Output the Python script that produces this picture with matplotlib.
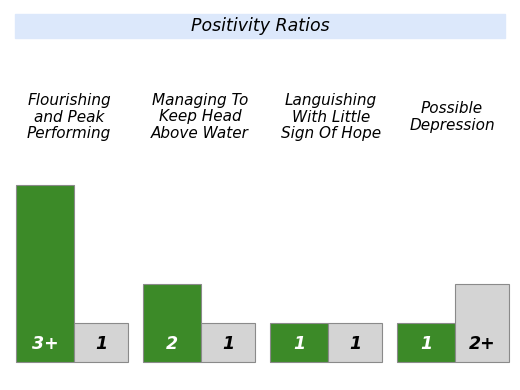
import matplotlib.pyplot as plt
from matplotlib.patches import Rectangle

# Data ===================================
categories = ['Flourishing\nand Peak\nPerforming', 'Managing To\nKeep Head\nAbove Water',
              'Languishing\nWith Little\nSign Of Hope', 'Possible\nDepression']
positive = [4.55, 2, 1, 1]     # green bars
negative = [1, 1, 1, 2]        # gray bars
pos_labels = ['3+', '2', '1', '1']
neg_labels = ['1', '1', '1', '2+']

W, H = 520, 390
fig = plt.figure(figsize=(5.2, 3.9), dpi=100)
ax = fig.add_axes([0, 0, 1, 1])
# pixel-like x axis, y axis in units (1 unit = 39 px, baseline at 362 px)
unit = 39
base = 362
ax.set_xlim(0, W)
ax.set_ylim(-(H - base) / unit, base / unit)
ax.axis('off')

green = '#3c8a28'
grey = '#d4d4d4'
edge = '#8a8a8a'
text_x = [69, 200, 331, 452]  # centres of the heading texts (px)

for i in range(len(categories)):
    x0 = 16 + 127 * i
    ax.bar(x0, positive[i], width=58, align='edge', color=green, edgecolor=edge, linewidth=0.8)
    ax.bar(x0 + 58, negative[i], width=54, align='edge', color=grey, edgecolor=edge, linewidth=0.8)
    ax.text(x0 + 29, 0.47, pos_labels[i], color='white', ha='center', va='center',
            fontsize=12.5, fontweight='bold', fontstyle='italic')
    ax.text(x0 + 58 + 27, 0.47, neg_labels[i], color='black', ha='center', va='center',
            fontsize=12.5, fontweight='bold', fontstyle='italic')
    fig.text(text_x[i] / W, 1 - 117 / H, categories[i], ha='center', va='center',
             fontsize=11, fontstyle='italic', linespacing=1.15)

# Title band
fig.add_artist(Rectangle((15 / W, 1 - 38 / H), 490 / W, 24 / H,
                         transform=fig.transFigure, color='#dce8fb', zorder=0))
fig.text(0.5, 1 - 26 / H, 'Positivity Ratios', ha='center', va='center',
         fontsize=12.5, fontstyle='italic')

fig.savefig('out.png', dpi=100)
